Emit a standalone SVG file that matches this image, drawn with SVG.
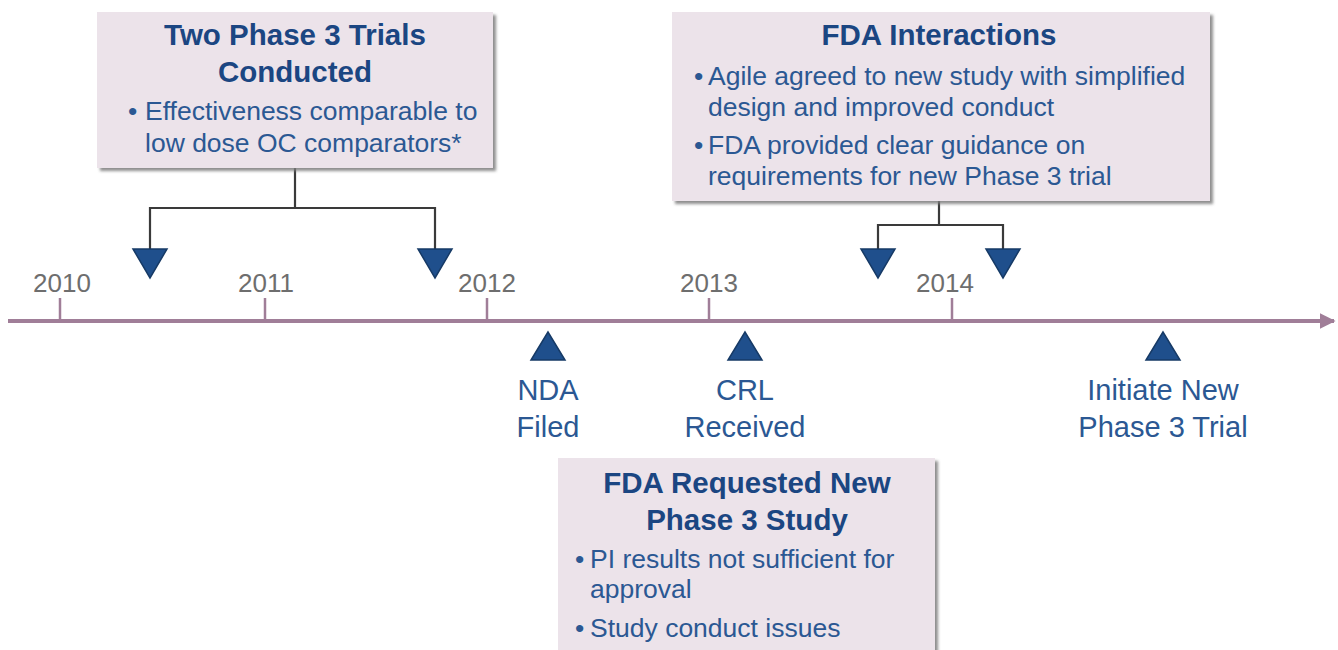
<svg xmlns="http://www.w3.org/2000/svg" width="1338" height="650" viewBox="0 0 1338 650">
<defs>
<filter id="sh" x="-5%" y="-5%" width="115%" height="120%">
<feDropShadow dx="3" dy="3" stdDeviation="1.8" flood-color="#7a7a7a" flood-opacity="0.85"/>
</filter>
<marker id="arr" viewBox="0 0 10 10" refX="9" refY="5" markerWidth="4" markerHeight="4" orient="auto" markerUnits="strokeWidth">
<path d="M0,0 L10,5 L0,10 z" fill="#a07e98"/>
</marker>
<style>
.box{fill:#ece3ea;filter:url(#sh)}
.ttl{font-family:"Liberation Sans",Arial,sans-serif;font-weight:bold;font-size:29.5px;fill:#1b4682;text-anchor:middle}
.bd{font-family:"Liberation Sans",Arial,sans-serif;font-size:26.5px;fill:#2b5893}
.lbl{font-family:"Liberation Sans",Arial,sans-serif;font-size:29px;fill:#2b5893;text-anchor:middle}
.yr{font-family:"Liberation Sans",Arial,sans-serif;font-size:26px;fill:#6e6e6e;text-anchor:middle}
.tri{fill:#1f4f8c;stroke:#163a66;stroke-width:1.5}
.con{stroke:#3a3a3a;stroke-width:2.2;fill:none}
.tick{stroke:#a07e98;stroke-width:2.5}
</style>
</defs>
<rect width="1338" height="650" fill="#ffffff"/>

<g id="timeline">
<line x1="8" y1="321" x2="1334" y2="321" stroke="#a07e98" stroke-width="4" marker-end="url(#arr)"/>
<line class="tick" x1="60" y1="298" x2="60" y2="321"/>
<line class="tick" x1="265" y1="298" x2="265" y2="321"/>
<line class="tick" x1="487" y1="298" x2="487" y2="321"/>
<line class="tick" x1="709" y1="298" x2="709" y2="321"/>
<line class="tick" x1="952" y1="298" x2="952" y2="321"/>
<text class="yr" x="62" y="292">2010</text>
<text class="yr" x="266" y="292">2011</text>
<text class="yr" x="487" y="292">2012</text>
<text class="yr" x="709" y="292">2013</text>
<text class="yr" x="945" y="292">2014</text>
</g>

<g id="connectors">
<path class="con" d="M295,168 V208 M150,250 V208 H435 V250"/>
<path class="con" d="M939,201 V225 M878,250 V225 H1003 V250"/>
</g>

<g id="node-two-phase3">
<rect class="box" x="97" y="12" width="396" height="156"/>
<text class="ttl" x="295" y="45">Two Phase 3 Trials</text>
<text class="ttl" x="295" y="82">Conducted</text>
<text class="bd" x="128" y="120">•</text>
<text class="bd" x="145" y="120">Effectiveness comparable to</text>
<text class="bd" x="145" y="152">low dose OC comparators*</text>
</g>

<g id="node-fda-interactions">
<rect class="box" x="672" y="12" width="538" height="189"/>
<text class="ttl" x="939" y="45">FDA Interactions</text>
<text class="bd" x="694" y="85">•</text>
<text class="bd" x="708" y="85">Agile agreed to new study with simplified</text>
<text class="bd" x="708" y="116">design and improved conduct</text>
<text class="bd" x="694" y="154">•</text>
<text class="bd" x="708" y="154">FDA provided clear guidance on</text>
<text class="bd" x="708" y="185">requirements for new Phase 3 trial</text>
</g>

<g id="node-fda-requested">
<rect class="box" x="558" y="458" width="377" height="200"/>
<text class="ttl" x="747" y="493">FDA Requested New</text>
<text class="ttl" x="747" y="530">Phase 3 Study</text>
<text class="bd" x="575" y="568">•</text>
<text class="bd" x="590" y="568">PI results not sufficient for</text>
<text class="bd" x="590" y="598">approval</text>
<text class="bd" x="575" y="637">•</text>
<text class="bd" x="590" y="637">Study conduct issues</text>
</g>

<g id="markers-down">
<polygon class="tri" points="133,249 167,249 150,278"/>
<polygon class="tri" points="418,249 452,249 435,278"/>
<polygon class="tri" points="861,249 895,249 878,278"/>
<polygon class="tri" points="986,249 1020,249 1003,278"/>
</g>

<g id="node-nda">
<polygon class="tri" points="548,332 531,360 565,360"/>
<text class="lbl" x="548" y="400">NDA</text>
<text class="lbl" x="548" y="437">Filed</text>
</g>

<g id="node-crl">
<polygon class="tri" points="745,332 728,360 762,360"/>
<text class="lbl" x="745" y="400">CRL</text>
<text class="lbl" x="745" y="437">Received</text>
</g>

<g id="node-initiate">
<polygon class="tri" points="1163,332 1146,360 1180,360"/>
<text class="lbl" x="1163" y="400">Initiate New</text>
<text class="lbl" x="1163" y="437">Phase 3 Trial</text>
</g>
</svg>
